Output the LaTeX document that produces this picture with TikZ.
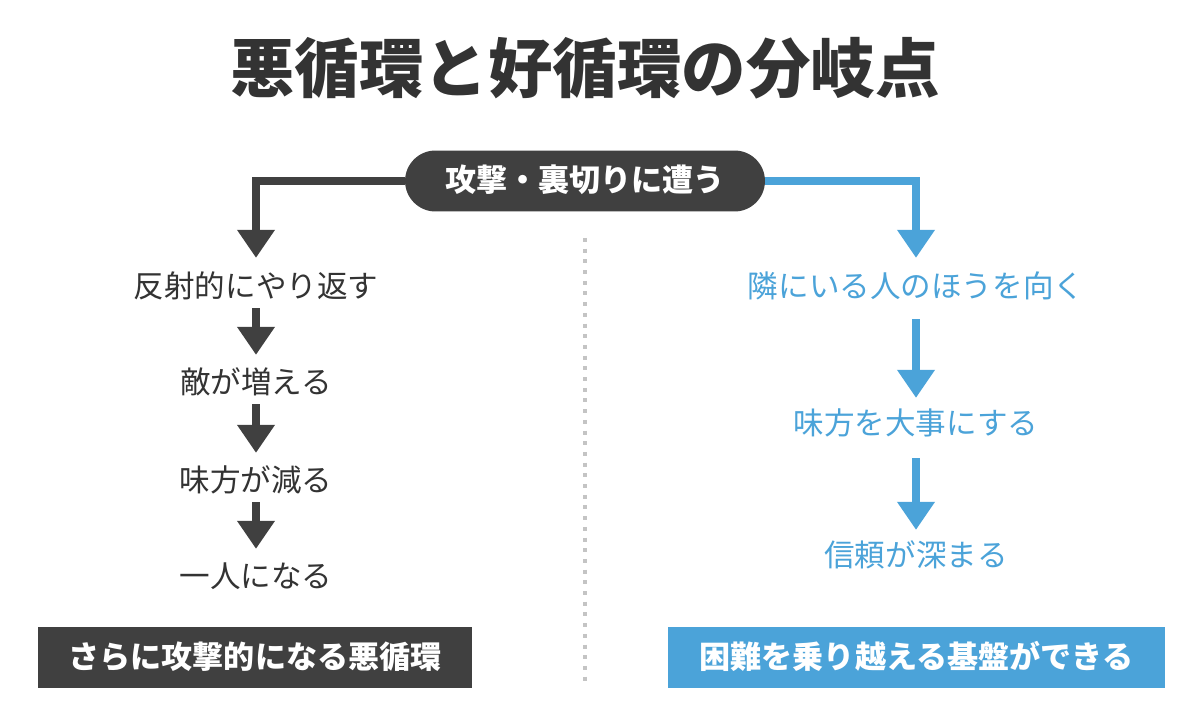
\documentclass[tikz,border=0pt]{standalone}
\usepackage{fontspec}
\setmainfont{Noto Sans CJK JP}
\usetikzlibrary{arrows.meta}
\begin{document}
\begin{tikzpicture}[x=0.02cm,y=-0.02cm,
  txt/.style={inner sep=0pt,text height=14.6pt,text depth=2.8pt,font=\fontsize{17.4pt}{20pt}\selectfont},
  band/.style={fill=#1,text=white,inner sep=0pt,minimum height=1.22cm,text height=14.9pt,text depth=2.8pt,font=\bfseries\fontsize{17.7pt}{20pt}\selectfont},
  flowarr/.style={line width=0.16cm,-{Triangle[width=0.72cm,length=0.56cm]}}]

\definecolor{mydark}{HTML}{404040}
\definecolor{myblue}{HTML}{4BA3D9}
\definecolor{mytext}{HTML}{333333}
\definecolor{mydots}{HTML}{C4C4C4}

\useasboundingbox[fill=white] (0,0) rectangle (1200,712);

% title
\node[mytext,inner sep=0pt,text height=30.8pt,text depth=5.9pt,font=\bfseries\fontsize{36.7pt}{40pt}\selectfont] (title) at (585,71) {悪循環と好循環の分岐点};

% dotted divider
\draw[mydots,line width=0.08cm,dash pattern=on 0.08cm off 0.134cm] (585,238) -- (585,684);

% start
\node[band=mydark,rounded corners=0.61cm,minimum width=7.2cm] (hit) at (585,181) {攻撃・裏切りに遭う};

% left side
\node[txt,mytext] (refl) at (256,287) {反射的にやり返す};
\node[txt,mytext] (enemy) at (256,383) {敵が増える};
\node[txt,mytext] (friends) at (256,481) {味方が減る};
\node[txt,mytext] (alone) at (256,577) {一人になる};
\node[band=mydark,minimum width=8.68cm] (vicious) at (255,657.5) {さらに攻撃的になる悪循環};

\draw[flowarr,mydark,shorten >=0.27cm] (hit.west) -| (refl.north);
\draw[flowarr,mydark,shorten <=0.11cm,shorten >=0.25cm] (refl.south) -- (enemy.north);
\draw[flowarr,mydark,shorten <=0.11cm,shorten >=0.25cm] (enemy.south) -- (friends.north);
\draw[flowarr,mydark,shorten <=0.11cm,shorten >=0.25cm] (friends.south) -- (alone.north);

% right side
\node[txt,myblue] (turn) at (916,287) {隣にいる人のほうを向く};
\node[txt,myblue] (care) at (916,424) {味方を大事にする};
\node[txt,myblue] (trust) at (916,556) {信頼が深まる};
\node[band=myblue,minimum width=9.94cm] (virtuous) at (916.5,657.5) {困難を乗り越える基盤ができる};

\draw[flowarr,myblue,shorten >=0.27cm] (hit.east) -| (turn.north);
\draw[flowarr,myblue,shorten <=0.33cm,shorten >=0.21cm] (turn.south) -- (care.north);
\draw[flowarr,myblue,shorten <=0.37cm,shorten >=0.21cm] (care.south) -- (trust.north);
\end{tikzpicture}
\end{document}
